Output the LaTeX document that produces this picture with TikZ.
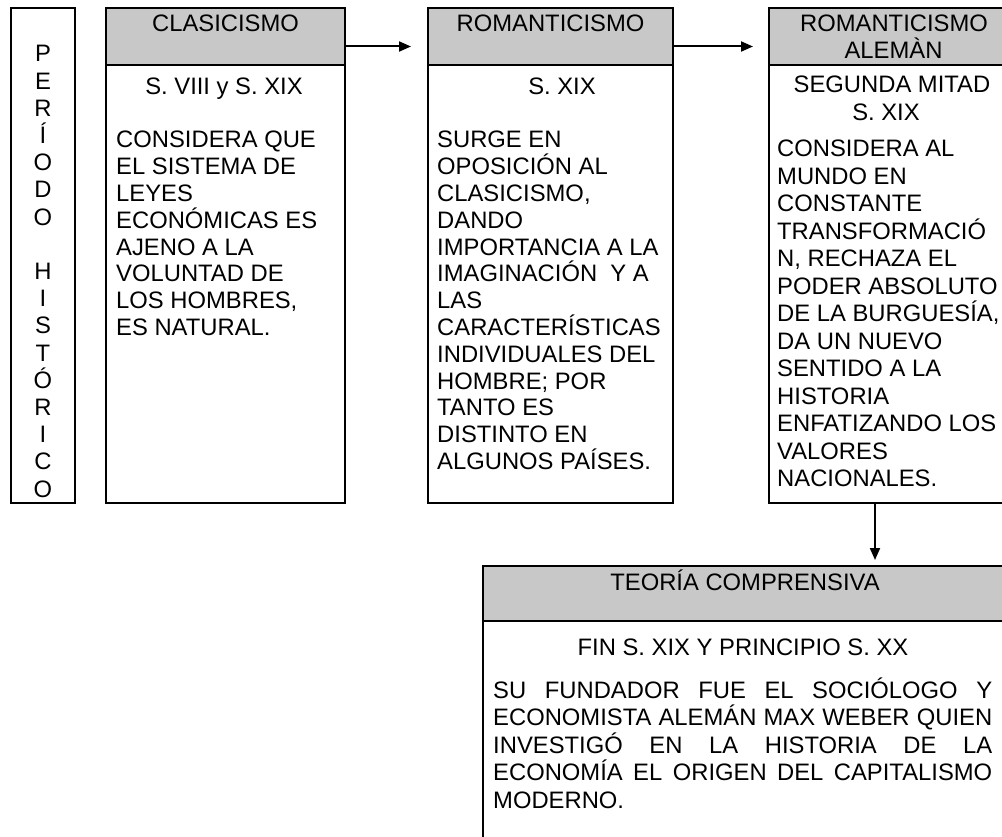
\documentclass[tikz,border=0pt]{standalone}
\usepackage{fontspec}
\setmainfont{Liberation Sans}
\usetikzlibrary{arrows.meta}
\definecolor{hdr}{RGB}{200,200,200}
\tikzset{
  frame/.style={draw=black, line width=2.2pt, rectangle, inner sep=0pt, outer sep=0pt, anchor=north west},
  hdrbox/.style={frame, fill=hdr},
  txt/.style={inner sep=0pt, font=\fontsize{23.8}{26.8}\selectfont},
  txtb/.style={inner sep=0pt, font=\fontsize{23.8}{27.5}\selectfont},
  arr/.style={-{Triangle[length=12pt,width=10pt]}, line width=2pt},
}
\begin{document}
\begin{tikzpicture}[x=1pt,y=-1pt]
\useasboundingbox (0,0) rectangle (1002,837);
\clip (0,0) rectangle (1002,837);
% boxes
\node[frame, minimum width=64pt, minimum height=495pt] (per) at (11,8) {};
\node[hdrbox, minimum width=239pt, minimum height=57pt] (h1) at (106,8) {};
\node[frame, minimum width=239pt, minimum height=438pt] (b1) at (106,65) {};
\node[hdrbox, minimum width=245pt, minimum height=57pt] (h2) at (428,8) {};
\node[frame, minimum width=245pt, minimum height=438pt] (b2) at (428,65) {};
\node[hdrbox, minimum width=250pt, minimum height=57pt] (h3) at (769,8) {};
\node[frame, minimum width=250pt, minimum height=438pt] (b3) at (769,65) {};
\node[hdrbox, minimum width=524pt, minimum height=55pt] (t1) at (483,566) {};
\node[frame, minimum width=524pt, minimum height=300pt] (t2) at (483,621) {};
% vertical text
\node[inner sep=0pt, font=\fontsize{23.8}{27.2}\selectfont, anchor=base] (tper) at (43,62)
  {\parbox[t]{30pt}{\centering P\\E\\R\\Í\\O\\D\\O\\\mbox{}\\H\\I\\S\\T\\Ó\\R\\I\\C\\O}};
% headers
\node[txt, anchor=base] (th1) at (225.5,32) {CLASICISMO};
\node[txt, anchor=base] (th2) at (550.5,32) {ROMANTICISMO};
\node[txt, anchor=base] (th3a) at (894,32) {ROMANTICISMO};
\node[txt, anchor=base] (th3b) at (893.5,59) {ALEMÀN};
\node[txt, anchor=base] (tt1) at (745,590) {TEORÍA COMPRENSIVA};
% dates
\node[txt, anchor=base] (d1) at (224,95) {S. VIII y S. XIX};
\node[txt, anchor=base] (d2) at (562,95) {S. XIX};
\node[txt, anchor=base] (d3a) at (892,93) {SEGUNDA MITAD};
\node[txt, anchor=base] (d3b) at (886,120.5) {S. XIX};
\node[txt, anchor=base] (d4) at (743,655) {FIN S. XIX Y PRINCIPIO S. XX};
% bodies
\node[txt, anchor=base west] (c1) at (116,148) {\parbox[t]{225pt}{\raggedright
  CONSIDERA QUE\\EL SISTEMA DE\\LEYES\\ECONÓMICAS ES\\AJENO A LA\\VOLUNTAD DE\\LOS HOMBRES,\\ES NATURAL.}};
\node[txt, anchor=base west] (c2) at (437,148) {\parbox[t]{234pt}{\raggedright
  SURGE EN\\OPOSICIÓN AL\\CLASICISMO,\\DANDO\\IMPORTANCIA A LA\\IMAGINACIÓN\ \ Y A\\LAS\\CARACTERÍSTICAS\\INDIVIDUALES DEL\\HOMBRE; POR\\TANTO ES\\DISTINTO EN\\ALGUNOS PAÍSES.}};
\node[txtb, anchor=base west] (c3) at (777,157) {\parbox[t]{300pt}{\raggedright
  CONSIDERA AL\\MUNDO EN\\CONSTANTE\\TRANSFORMACIÓ\\N, RECHAZA EL\\PODER ABSOLUTO\\DE LA BURGUESÍA,\\DA UN NUEVO\\SENTIDO A LA\\HISTORIA\\ENFATIZANDO LOS\\VALORES\\NACIONALES.}};
\node[txtb, anchor=base west] (c4) at (493,698) {\parbox[t]{499pt}{%
  \makebox[499pt][s]{SU FUNDADOR FUE EL SOCIÓLOGO Y}\\
  \makebox[499pt][s]{ECONOMISTA ALEMÁN MAX WEBER QUIEN}\\
  \makebox[499pt][s]{INVESTIGÓ EN LA HISTORIA DE LA}\\
  \makebox[499pt][s]{ECONOMÍA EL ORIGEN DEL CAPITALISMO}\\
  MODERNO.}};
% connectors
\draw[arr, shorten >=17pt] ([yshift=-10pt]h1.east) -- ([yshift=-10pt]h2.west);
\draw[arr, shorten >=16pt] ([yshift=-10pt]h2.east) -- ([yshift=-10pt]h3.west);
\draw[arr, shorten >=6pt] ([xshift=-19pt]b3.south) -- ([xshift=-19pt]b3.south |- t1.north);
\end{tikzpicture}
\end{document}
